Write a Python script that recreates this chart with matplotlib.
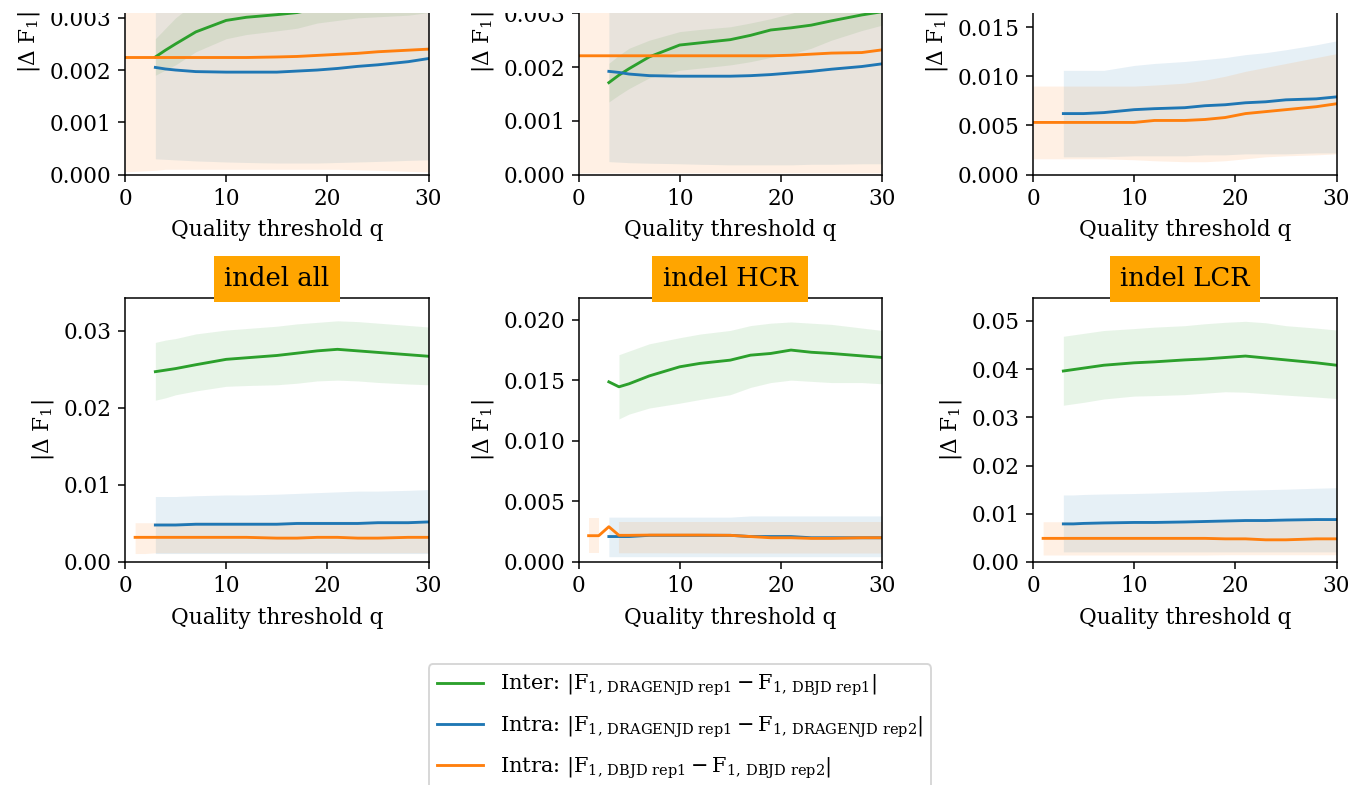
import numpy as np
import matplotlib
matplotlib.use("Agg")
import matplotlib.pyplot as plt
from matplotlib.patches import Rectangle

plt.rcParams['font.family'] = 'DejaVu Serif'
plt.rcParams['mathtext.fontset'] = 'dejavuserif'
plt.rcParams['font.size'] = 11.4

W, H, DPI = 1353, 785, 137

# Quality thresholds where values were read
Q = [3, 4, 5, 7, 10, 12, 15, 17, 19, 21, 23, 25, 28, 30]
Q_DBJD_SNV = [0] + Q
Q_DBJD_INDEL = [1, 2] + Q
nan = np.nan

# --- SNV all (top left) ---
SNV_ALL_INTER = [0.00225, 0.00238, 0.0025, 0.00273, 0.00295, 0.00301, 0.00306, 0.0031, 0.00318, 0.00325, 0.0033, 0.00336, 0.00344, 0.0035]
SNV_ALL_INTER_LO = [0.0019, 0.002, 0.0021, 0.00235, 0.0026, 0.00268, 0.00275, 0.0028, 0.0029, 0.00295, 0.003, 0.00302, 0.00305, 0.0031]
SNV_ALL_INTER_HI = [0.0026, 0.0028, 0.003, 0.0033, 0.0036, 0.0037, 0.0038, 0.0039, 0.004, 0.0041, 0.0042, 0.0043, 0.0044, 0.0045]
SNV_ALL_DRAGEN = [0.00205, 0.00202, 0.002, 0.00197, 0.00196, 0.00196, 0.00196, 0.00198, 0.002, 0.00203, 0.00207, 0.0021, 0.00216, 0.00222]
SNV_ALL_DRAGEN_LO = [0.0003, 0.00029, 0.00028, 0.00026, 0.00024, 0.00023, 0.00022, 0.00022, 0.00022, 0.00023, 0.00024, 0.00025, 0.00027, 0.00028]
SNV_ALL_DRAGEN_HI = [0.0038, 0.0038, 0.0038, 0.0038, 0.0038, 0.0038, 0.0039, 0.0039, 0.004, 0.004, 0.0041, 0.0041, 0.0042, 0.0042]
SNV_ALL_DBJD = [0.00224, 0.00224, 0.00224, 0.00224, 0.00224, 0.00224, 0.00224, 0.00225, 0.00226, 0.00228, 0.0023, 0.00232, 0.00235, 0.00238, 0.0024]
SNV_ALL_DBJD_LO = [0.00005, 0.00008, 0.0001, 0.0001, 0.0001, 0.0001, 0.0001, 0.0001, 0.0001, 0.0001, 0.0001, 0.00009, 0.00008, 0.00006, 0.00005]
SNV_ALL_DBJD_HI = [0.0044, 0.0044, 0.0044, 0.0044, 0.0044, 0.0044, 0.0044, 0.0044, 0.0045, 0.0045, 0.0045, 0.0045, 0.0046, 0.0046, 0.0046]

# --- SNV HCR (top middle) ---
SNV_HCR_INTER = [0.00171, 0.00185, 0.00197, 0.00219, 0.00241, 0.00245, 0.00251, 0.00259, 0.00269, 0.00273, 0.00278, 0.00286, 0.00297, 0.00303]
SNV_HCR_INTER_LO = [0.00135, 0.00148, 0.0016, 0.0018, 0.00194, 0.00198, 0.00204, 0.0021, 0.00218, 0.00224, 0.00235, 0.0025, 0.00268, 0.00278]
SNV_HCR_INTER_HI = [0.00207, 0.00222, 0.00235, 0.0025, 0.00266, 0.0027, 0.00275, 0.00282, 0.0029, 0.003, 0.0031, 0.0032, 0.0033, 0.0034]
SNV_HCR_DRAGEN = [0.00192, 0.0019, 0.00187, 0.00184, 0.00183, 0.00183, 0.00183, 0.00184, 0.00186, 0.00189, 0.00192, 0.00196, 0.00201, 0.00206]
SNV_HCR_DRAGEN_LO = [0.00024, 0.00023, 0.00022, 0.00021, 0.0002, 0.00019, 0.00018, 0.00018, 0.00018, 0.00018, 0.00019, 0.00019, 0.0002, 0.0002]
SNV_HCR_DRAGEN_HI = [0.0036, 0.0036, 0.0036, 0.0036, 0.0037, 0.0037, 0.0037, 0.0038, 0.0038, 0.0039, 0.0039, 0.0039, 0.004, 0.004]
SNV_HCR_DBJD = [0.00221, 0.00221, 0.00221, 0.00221, 0.00221, 0.00221, 0.00221, 0.00221, 0.00221, 0.00221, 0.00222, 0.00224, 0.00226, 0.00227, 0.00232]
SNV_HCR_DBJD_LO = [0.00003, 0.00003, 0.00003, 0.00003, 0.00003, 0.00003, 0.00003, 0.00003, 0.00003, 0.00003, 0.00003, 0.00003, 0.00003, 0.00003, 0.00003]
SNV_HCR_DBJD_HI = [0.0042, 0.0042, 0.0042, 0.0042, 0.0042, 0.0042, 0.0042, 0.0042, 0.0042, 0.0043, 0.0043, 0.0043, 0.0044, 0.0044, 0.0044]

# --- SNV LCR (top right) ---
SNV_LCR_INTER = [0.0205, 0.0206, 0.0207, 0.0209, 0.0211, 0.0212, 0.0213, 0.0214, 0.0215, 0.0216, 0.0216, 0.0216, 0.0215, 0.0214]
SNV_LCR_INTER_LO = [0.0175, 0.0176, 0.0177, 0.0179, 0.0181, 0.0182, 0.0183, 0.0184, 0.0185, 0.0186, 0.0186, 0.0186, 0.0185, 0.0184]
SNV_LCR_INTER_HI = [0.0235, 0.0236, 0.0237, 0.0239, 0.0241, 0.0242, 0.0243, 0.0244, 0.0245, 0.0246, 0.0246, 0.0246, 0.0245, 0.0244]
SNV_LCR_DRAGEN = [0.0062, 0.0062, 0.0062, 0.0063, 0.0066, 0.0067, 0.0068, 0.007, 0.0071, 0.0073, 0.0074, 0.0076, 0.0077, 0.0079]
SNV_LCR_DRAGEN_LO = [0.0018, 0.0018, 0.0018, 0.0018, 0.0019, 0.0019, 0.0019, 0.002, 0.002, 0.0021, 0.0021, 0.0021, 0.0022, 0.0022]
SNV_LCR_DRAGEN_HI = [0.0106, 0.0106, 0.0106, 0.0106, 0.0111, 0.0113, 0.0115, 0.0117, 0.0119, 0.0122, 0.0124, 0.0127, 0.0132, 0.0136]
SNV_LCR_DBJD = [0.0053, 0.0053, 0.0053, 0.0053, 0.0053, 0.0053, 0.0055, 0.0055, 0.0056, 0.0058, 0.0062, 0.0064, 0.0066, 0.0069, 0.0072]
SNV_LCR_DBJD_LO = [0.0016, 0.0016, 0.0016, 0.0016, 0.0016, 0.0015, 0.0014, 0.0013, 0.0013, 0.0014, 0.0016, 0.0018, 0.0019, 0.002, 0.0021]
SNV_LCR_DBJD_HI = [0.009, 0.009, 0.009, 0.009, 0.009, 0.009, 0.0091, 0.0093, 0.0096, 0.01, 0.0105, 0.0109, 0.0113, 0.0119, 0.0123]

# --- indel all (bottom left) ---
INDEL_ALL_INTER = [0.0247, 0.0249, 0.0251, 0.0256, 0.0263, 0.0265, 0.0268, 0.0271, 0.0274, 0.0276, 0.0274, 0.0272, 0.0269, 0.0267]
INDEL_ALL_INTER_LO = [0.021, 0.0213, 0.0217, 0.0222, 0.0228, 0.0229, 0.023, 0.0232, 0.0235, 0.0236, 0.0235, 0.0233, 0.0231, 0.023]
INDEL_ALL_INTER_HI = [0.0285, 0.0288, 0.029, 0.0296, 0.0301, 0.0303, 0.0306, 0.0309, 0.0311, 0.0313, 0.0312, 0.031, 0.0307, 0.0305]
INDEL_ALL_DRAGEN = [0.0048, 0.0048, 0.0048, 0.0049, 0.0049, 0.0049, 0.0049, 0.005, 0.005, 0.005, 0.005, 0.0051, 0.0051, 0.0052]
INDEL_ALL_DRAGEN_LO = [0.0011, 0.0011, 0.0011, 0.0011, 0.0011, 0.0011, 0.0011, 0.0011, 0.0011, 0.0011, 0.0011, 0.0011, 0.0011, 0.0011]
INDEL_ALL_DRAGEN_HI = [0.0085, 0.0085, 0.0085, 0.0086, 0.0087, 0.0087, 0.0088, 0.0089, 0.009, 0.0091, 0.0092, 0.0092, 0.0093, 0.0094]
INDEL_ALL_DBJD = [0.0032, 0.0032, 0.0032, 0.0032, 0.0032, 0.0032, 0.0032, 0.0032, 0.0031, 0.0031, 0.0032, 0.0032, 0.0031, 0.0031, 0.0032, 0.0032]
INDEL_ALL_DBJD_LO = [0.0011, 0.0011, 0.0012, 0.0012, 0.0012, 0.0012, 0.0012, 0.0012, 0.0012, 0.0012, 0.0012, 0.0012, 0.0012, 0.0012, 0.0012, 0.0012]
INDEL_ALL_DBJD_HI = [0.0051, 0.0051, 0.0051, 0.0051, 0.0051, 0.0052, 0.0052, 0.0052, 0.0052, 0.0053, 0.0053, 0.0053, 0.0053, 0.0053, 0.0054, 0.0054]

# --- indel HCR (bottom middle) ---
INDEL_HCR_INTER = [0.01486, 0.01445, 0.0147, 0.01535, 0.0161, 0.01638, 0.01665, 0.01706, 0.0172, 0.01748, 0.0173, 0.0172, 0.017, 0.01687]
INDEL_HCR_INTER_LO = [nan, 0.0118, 0.0122, 0.0127, 0.0131, 0.0134, 0.0138, 0.0144, 0.0148, 0.015, 0.0149, 0.0148, 0.0148, 0.0147]
INDEL_HCR_INTER_HI = [nan, 0.0171, 0.0174, 0.018, 0.0185, 0.0188, 0.0191, 0.0195, 0.0197, 0.0198, 0.0197, 0.0196, 0.0193, 0.0191]
INDEL_HCR_DRAGEN = [0.0021, 0.0021, 0.0021, 0.0022, 0.0022, 0.0022, 0.0022, 0.0021, 0.0021, 0.0021, 0.002, 0.002, 0.002, 0.002]
INDEL_HCR_DRAGEN_LO = [0.00044, 0.00044, 0.00044, 0.00044, 0.00044, 0.00044, 0.00044, 0.00044, 0.00044, 0.00044, 0.00044, 0.00044, 0.00044, 0.00044]
INDEL_HCR_DRAGEN_HI = [0.0037, 0.0037, 0.0037, 0.0037, 0.0037, 0.0037, 0.0037, 0.0038, 0.0038, 0.0038, 0.0038, 0.0038, 0.0038, 0.0038]
INDEL_HCR_DBJD = [0.00217, 0.00217, 0.00291, 0.0022, 0.0022, 0.00222, 0.00222, 0.00222, 0.0022, 0.0021, 0.002, 0.002, 0.00195, 0.00195, 0.002, 0.002]
INDEL_HCR_DBJD_LO = [0.00077, 0.00077, nan, 0.00072, 0.00072, 0.00072, 0.00071, 0.00071, 0.0007, 0.0007, 0.0007, 0.0007, 0.0007, 0.0007, 0.0007, 0.0007]
INDEL_HCR_DBJD_HI = [0.00365, 0.00365, nan, 0.0033, 0.0033, 0.0033, 0.0033, 0.0033, 0.0033, 0.0033, 0.0033, 0.0033, 0.0033, 0.0033, 0.0033, 0.0033]

# --- indel LCR (bottom right) ---
INDEL_LCR_INTER = [0.0396, 0.0399, 0.0402, 0.0408, 0.0413, 0.0415, 0.0419, 0.0421, 0.0424, 0.0427, 0.0423, 0.0419, 0.0413, 0.0408]
INDEL_LCR_INTER_LO = [0.0325, 0.0328, 0.0331, 0.0338, 0.0344, 0.0345, 0.0347, 0.035, 0.0353, 0.0352, 0.0349, 0.0346, 0.0342, 0.0339]
INDEL_LCR_INTER_HI = [0.0468, 0.0471, 0.0474, 0.048, 0.0484, 0.0487, 0.049, 0.0494, 0.0497, 0.0499, 0.0496, 0.049, 0.0485, 0.0481]
INDEL_LCR_DRAGEN = [0.0079, 0.0079, 0.008, 0.0081, 0.0082, 0.0082, 0.0083, 0.0084, 0.0085, 0.0086, 0.0086, 0.0087, 0.0088, 0.0088]
INDEL_LCR_DRAGEN_LO = [0.0021, 0.0021, 0.0021, 0.0021, 0.0021, 0.0021, 0.0021, 0.0021, 0.0021, 0.0021, 0.0021, 0.0021, 0.0021, 0.0021]
INDEL_LCR_DRAGEN_HI = [0.0139, 0.0139, 0.014, 0.0141, 0.0142, 0.0143, 0.0145, 0.0146, 0.0148, 0.0149, 0.015, 0.0151, 0.0153, 0.0154]
INDEL_LCR_DBJD = [0.0049, 0.0049, 0.0049, 0.0049, 0.0049, 0.0049, 0.0049, 0.0049, 0.0049, 0.0049, 0.0048, 0.0048, 0.0046, 0.0046, 0.0048, 0.0048]
INDEL_LCR_DBJD_LO = [0.00145, 0.00145, 0.00145, 0.00145, 0.00145, 0.00145, 0.00145, 0.00145, 0.00145, 0.00145, 0.0015, 0.0015, 0.0015, 0.0015, 0.0015, 0.0015]
INDEL_LCR_DBJD_HI = [0.00835, 0.00835, 0.00835, 0.00835, 0.0084, 0.0084, 0.0084, 0.0084, 0.0085, 0.0085, 0.0085, 0.0085, 0.0085, 0.0086, 0.0086, 0.0086]

TITLES = [None, None, None, 'indel all', 'indel HCR', 'indel LCR']
YMAX = [0.00506, 0.00492, 0.0269, 0.0343, 0.0218, 0.0548]

C_INTER = '#2ca02c'
C_DRAGEN = '#1f77b4'
C_DBJD = '#ff7f0e'

LABELS = [
    r'Inter: $|\mathrm{F}_{1,\,\mathrm{DRAGENJD\ rep1}} - \mathrm{F}_{1,\,\mathrm{DBJD\ rep1}}|$',
    r'Intra: $|\mathrm{F}_{1,\,\mathrm{DRAGENJD\ rep1}} - \mathrm{F}_{1,\,\mathrm{DRAGENJD\ rep2}}|$',
    r'Intra: $|\mathrm{F}_{1,\,\mathrm{DBJD\ rep1}} - \mathrm{F}_{1,\,\mathrm{DBJD\ rep2}}|$',
]

panels = [
    (Q_DBJD_SNV, SNV_ALL_INTER, SNV_ALL_INTER_LO, SNV_ALL_INTER_HI, SNV_ALL_DRAGEN, SNV_ALL_DRAGEN_LO, SNV_ALL_DRAGEN_HI, SNV_ALL_DBJD, SNV_ALL_DBJD_LO, SNV_ALL_DBJD_HI),
    (Q_DBJD_SNV, SNV_HCR_INTER, SNV_HCR_INTER_LO, SNV_HCR_INTER_HI, SNV_HCR_DRAGEN, SNV_HCR_DRAGEN_LO, SNV_HCR_DRAGEN_HI, SNV_HCR_DBJD, SNV_HCR_DBJD_LO, SNV_HCR_DBJD_HI),
    (Q_DBJD_SNV, SNV_LCR_INTER, SNV_LCR_INTER_LO, SNV_LCR_INTER_HI, SNV_LCR_DRAGEN, SNV_LCR_DRAGEN_LO, SNV_LCR_DRAGEN_HI, SNV_LCR_DBJD, SNV_LCR_DBJD_LO, SNV_LCR_DBJD_HI),
    (Q_DBJD_INDEL, INDEL_ALL_INTER, INDEL_ALL_INTER_LO, INDEL_ALL_INTER_HI, INDEL_ALL_DRAGEN, INDEL_ALL_DRAGEN_LO, INDEL_ALL_DRAGEN_HI, INDEL_ALL_DBJD, INDEL_ALL_DBJD_LO, INDEL_ALL_DBJD_HI),
    (Q_DBJD_INDEL, INDEL_HCR_INTER, INDEL_HCR_INTER_LO, INDEL_HCR_INTER_HI, INDEL_HCR_DRAGEN, INDEL_HCR_DRAGEN_LO, INDEL_HCR_DRAGEN_HI, INDEL_HCR_DBJD, INDEL_HCR_DBJD_LO, INDEL_HCR_DBJD_HI),
    (Q_DBJD_INDEL, INDEL_LCR_INTER, INDEL_LCR_INTER_LO, INDEL_LCR_INTER_HI, INDEL_LCR_DRAGEN, INDEL_LCR_DRAGEN_LO, INDEL_LCR_DRAGEN_HI, INDEL_LCR_DBJD, INDEL_LCR_DBJD_LO, INDEL_LCR_DBJD_HI),
]

fig = plt.figure(figsize=(W / DPI, H / DPI), dpi=DPI)

# axes boxes in pixels (left, bottom from top); top row runs past the top edge
col_left = [125, 578.5, 1033]
row_bottom = [174.5, 562]
ax_w, ax_h = 303.5, 264.3

axes = []
for i, p in enumerate(panels):
    r, c = divmod(i, 3)
    ax = fig.add_axes([col_left[c] / W, 1 - row_bottom[r] / H, ax_w / W, ax_h / H])
    axes.append(ax)
    q_dbjd, inter, inter_lo, inter_hi, dr, dr_lo, dr_hi, db, db_lo, db_hi = p

    ax.fill_between(Q, inter_lo, inter_hi, color=C_INTER, alpha=0.11, linewidth=0)
    ax.fill_between(Q, dr_lo, dr_hi, color=C_DRAGEN, alpha=0.11, linewidth=0)
    ax.fill_between(q_dbjd, db_lo, db_hi, color=C_DBJD, alpha=0.11, linewidth=0)
    ax.plot(Q, inter, color=C_INTER, lw=1.5, label=LABELS[0])
    ax.plot(Q, dr, color=C_DRAGEN, lw=1.5, label=LABELS[1])
    ax.plot(q_dbjd, db, color=C_DBJD, lw=1.5, label=LABELS[2])

    ax.set_xlim(0, 30)
    ax.set_ylim(0, YMAX[i])
    ax.set_xticks([0, 10, 20, 30])
    ax.set_xlabel('Quality threshold q', labelpad=5)
    ax.set_ylabel(r'$|\Delta\ \mathrm{F}_1|$')
    if TITLES[i]:
        ax.set_title(TITLES[i], fontsize=13.6,
                     bbox=dict(facecolor='orange', edgecolor='none', pad=5.5))

# white strip where the picture was cut at the top
fig.add_artist(Rectangle((0, 1 - 13 / H), 1, 13 / H, transform=fig.transFigure,
                         facecolor='white', edgecolor='none', zorder=10))

handles, labels = axes[0].get_legend_handles_labels()
fig.legend(handles, labels, loc='upper center', bbox_to_anchor=(680 / W, 1 - 654 / H),
           handlelength=2.2, fontsize=11, labelspacing=0.75)

fig.savefig('out.png', dpi=DPI)
